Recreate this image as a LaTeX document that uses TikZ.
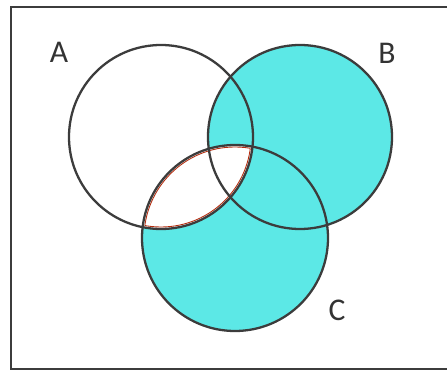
\documentclass[tikz,border=0pt]{standalone}
\usepackage{fontspec}
\setsansfont{Carlito}
\usepackage{tikz}
\definecolor{vennfill}{RGB}{92,232,230}
\definecolor{vennline}{RGB}{60,60,60}
\definecolor{lensred}{RGB}{180,45,15}
\begin{document}
\begin{tikzpicture}[x=0.02cm,y=0.02cm,
	set/.style={draw=vennline,line width=1.3pt},
	lbl/.style={font=\sffamily\fontsize{18}{20}\selectfont,text=black!80}]
	\useasboundingbox (0,0) rectangle (447,372);
	\coordinate (cA) at (161,235);
	\coordinate (cB) at (300,235);
	\coordinate (cC) at (235,134);
	% shaded part: B and C without A and C
	\fill[vennfill] (cB) circle (92) (cC) circle (93);
	\begin{scope}
		\clip (cA) circle (92);
		\fill[white] (cC) circle (93);
	\end{scope}
	% red outline round the lens
	\begin{scope}
		\clip (cA) circle (90);
		\draw[lensred,line width=0.5pt] (cC) circle (91);
	\end{scope}
	\begin{scope}
		\clip (cC) circle (91);
		\draw[lensred,line width=0.5pt] (cA) circle (90);
	\end{scope}
	\foreach \s/\r in {A/92,B/92,C/93}{\draw[set] (c\s) circle (\r);}
	\draw[vennline,line width=1.1pt] (450,365) -- (11,365) -- (11,3) -- (450,3);
	\node[lbl] (labA) at (59,320) {A};
	\node[lbl] (labB) at (387,319) {B};
	\node[lbl] (labC) at (337,62) {C};
\end{tikzpicture}
\end{document}
